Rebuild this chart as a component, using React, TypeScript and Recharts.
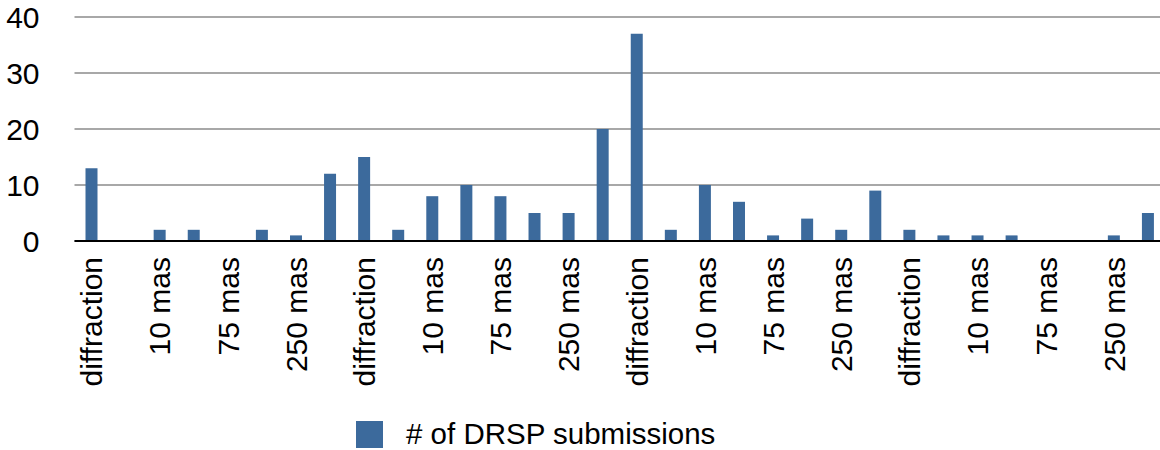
import { BarChart, Bar, XAxis, YAxis, CartesianGrid, Legend } from "recharts";

// resolution classes, repeated for four groups (only every other one is labelled)
const resolutions = [
  "diffraction", "5 mas", "10 mas", "20 mas",
  "75 mas", "100 mas", "250 mas", "seeing",
];
const groups = ["A", "B", "C", "D"];

const submissions = [
  13, 0, 2, 2, 0, 2, 1, 12,
  15, 2, 8, 10, 8, 5, 5, 20,
  37, 2, 10, 7, 1, 4, 2, 9,
  2, 1, 1, 1, 0, 0, 1, 5,
];

const yTicks = [0, 10, 20, 30, 40];

const data = submissions.map((v, i) => ({
  key: `${groups[Math.floor(i / resolutions.length)]}-${i}`,
  name: resolutions[i % resolutions.length],
  value: v,
}));

const FONT = "Helvetica, 'Liberation Sans', Arial, sans-serif";
const BAR_COLOR = "#3c6a9c";

const XTick = (props: any) => {
  const { x, y, payload } = props;
  return (
    <text
      x={x}
      y={y + 16}
      transform={`rotate(-90, ${x}, ${y + 16})`}
      textAnchor="end"
      dy="0.36em"
      fontSize={30}
      fontFamily={FONT}
      fill="#000"
    >
      {data[payload.index]?.name}
    </text>
  );
};

const LegendContent = () => (
  <div style={{ height: 50, position: "relative", fontFamily: FONT }}>
    <span
      style={{
        position: "absolute", left: 356, top: 21, width: 27, height: 27,
        backgroundColor: BAR_COLOR,
      }}
    />
    <span
      style={{
        position: "absolute", left: 406, top: 16, fontSize: 29.5,
        lineHeight: "36px", color: "#000", whiteSpace: "nowrap",
      }}
    >
      # of DRSP submissions
    </span>
  </div>
);

export default function App() {
  return (
    <div style={{ position: "absolute", left: 0, top: 0, width: 1160, height: 450, overflow: "hidden", background: "#fff" }}>
      <BarChart
        width={1165}
        height={450}
        data={data}
        margin={{ top: 17, right: 0, bottom: 0, left: 0 }}
        barCategoryGap={0}
      >
        <CartesianGrid vertical={false} stroke="#a8a8a8" strokeWidth={2} />
        <XAxis
          dataKey="key"
          interval={1}
          tick={<XTick />}
          tickLine={false}
          tickSize={0}
          tickMargin={0}
          height={159}
          axisLine={{ stroke: "#000", strokeWidth: 2 }}
        />
        <YAxis
          width={74.5}
          domain={[0, 40]}
          ticks={yTicks}
          axisLine={false}
          tickLine={false}
          tickSize={0}
          tickMargin={35}
          tick={{ fontSize: 30, fill: "#000", fontFamily: FONT }}
        />
        <Legend verticalAlign="bottom" wrapperStyle={{ left: 0, width: 1160 }} content={<LegendContent />} />
        <Bar dataKey="value" fill={BAR_COLOR} barSize={12} isAnimationActive={false} />
      </BarChart>
    </div>
  );
}
